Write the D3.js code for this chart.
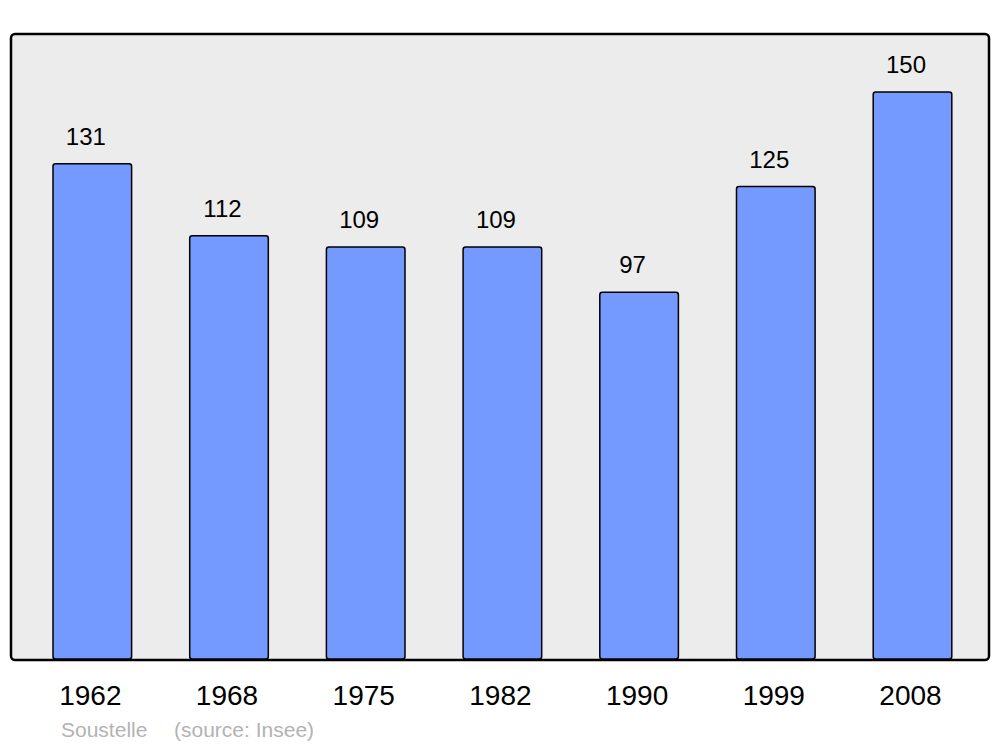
<!DOCTYPE html>
<html><head><meta charset="utf-8">
<script src="https://cdn.jsdelivr.net/npm/d3@7/dist/d3.min.js"></script>
<style>body{margin:0;background:#fff;}svg{display:block;font-family:"Liberation Sans",Arial,sans-serif;}</style>
</head><body>
<script>
const years = ["1962","1968","1975","1982","1990","1999","2008"];
const population = [131,112,109,109,97,125,150];
const captionName = "Soustelle";
const captionSource = "(source: Insee)";

const W = 1000, H = 747;
const svg = d3.select("body").append("svg").attr("width", W).attr("height", H);

const panel = {x0: 11, y0: 34, x1: 989, y1: 660};
svg.append("rect").attr("x", panel.x0).attr("y", panel.y0)
  .attr("width", panel.x1 - panel.x0).attr("height", panel.y1 - panel.y0)
  .attr("rx", 4).attr("fill", "#ececec").attr("stroke", "#000").attr("stroke-width", 2.5);

const x = d3.scaleBand().domain(years).range([24.3, 980.5]).paddingInner(0.425).paddingOuter(0.21);
const y = d3.scaleLinear().domain([0, 150]).range([659, 92]);

svg.selectAll("rect.bar").data(years).join("rect").attr("class", "bar")
  .attr("x", d => x(d)).attr("width", x.bandwidth())
  .attr("y", (d, i) => y(population[i])).attr("height", (d, i) => y(0) - y(population[i]))
  .attr("rx", 2.5).attr("fill", "#7499ff").attr("stroke", "#000").attr("stroke-width", 1.5);

svg.selectAll("text.val").data(years).join("text").attr("class", "val")
  .attr("x", d => x(d) + x.bandwidth() / 2 - 6.5).attr("y", (d, i) => y(population[i]) - 19)
  .attr("text-anchor", "middle").attr("font-size", 24).attr("fill", "#000")
  .text((d, i) => population[i]);

const xAxis = d3.axisBottom(x).tickSize(0).tickPadding(0);
const ax = svg.append("g").attr("transform", `translate(-2,${panel.y1})`).call(xAxis);
ax.select(".domain").remove();
ax.selectAll("text").attr("font-size", 28).attr("font-family", "Liberation Sans, Arial, sans-serif")
  .attr("fill", "#000").attr("dy", null).attr("y", 45);

svg.append("text").attr("x", 61).attr("y", 737).attr("font-size", 21)
  .attr("fill", "#b3b3b3").text(captionName);
svg.append("text").attr("x", 174).attr("y", 737).attr("font-size", 21)
  .attr("fill", "#b3b3b3").text(captionSource);
</script>
</body></html>
